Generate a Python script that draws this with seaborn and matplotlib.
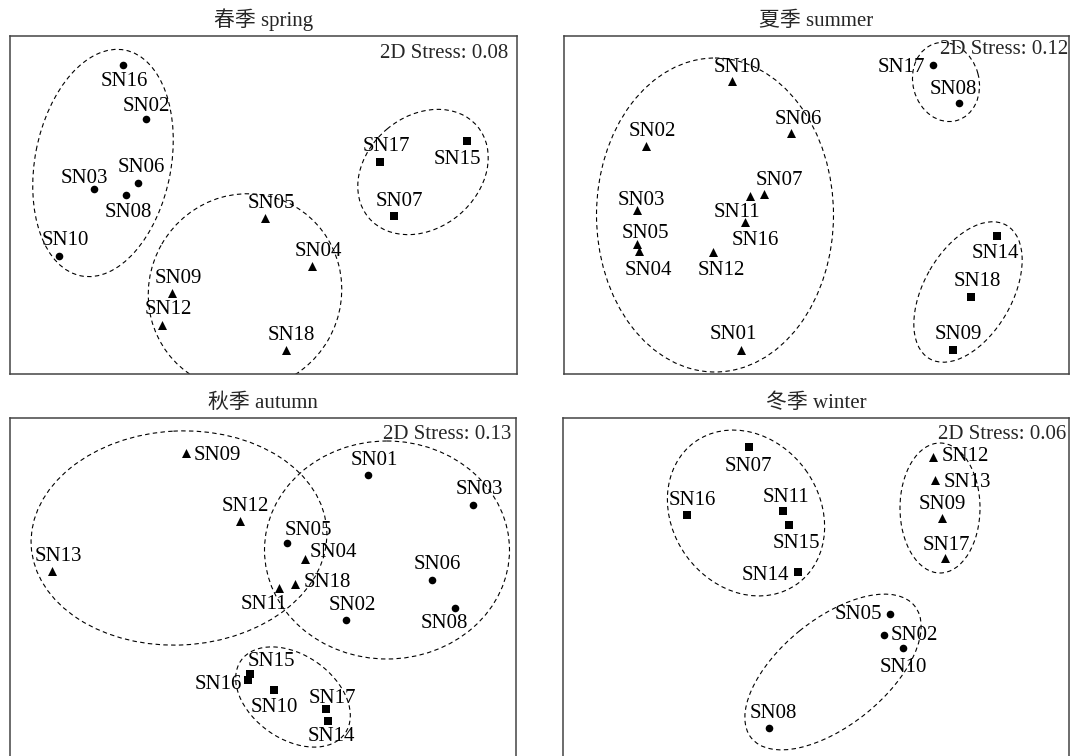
import matplotlib
matplotlib.use("Agg")
import matplotlib.pyplot as plt
from matplotlib.patches import Ellipse
import seaborn as sns
import pandas as pd

sns.set_theme(style="white")
plt.rcParams['font.family'] = ['Liberation Serif', 'Noto Sans CJK SC']

# titles and stress values
titles = ['春季 spring', '夏季 summer', '秋季 autumn', '冬季 winter']
stress = ['0.08', '0.12', '0.13', '0.06']

# ordination positions (panel pixel units, y down)
spring_names = ['SN16', 'SN02', 'SN06', 'SN03', 'SN08', 'SN10', 'SN17', 'SN15', 'SN07',
                'SN05', 'SN04', 'SN09', 'SN12', 'SN18']
spring_x = [123.3, 146.0, 138.4, 93.7, 126.0, 59.2, 380.2, 467.3, 393.6,
            264.5, 312.3, 172.2, 162.2, 285.8]
spring_y = [65.0, 119.2, 182.8, 188.9, 194.6, 255.9, 161.6, 141.1, 216.5,
            217.8, 266.0, 292.6, 325.3, 350.2]
spring_grp = ['o'] * 6 + ['s'] * 3 + ['^'] * 5

summer_names = ['SN10', 'SN06', 'SN02', 'SN07', 'SN11', 'SN03', 'SN16', 'SN05', 'SN04',
                'SN12', 'SN01', 'SN17', 'SN08', 'SN14', 'SN18', 'SN09']
summer_x = [731.7, 791.4, 646.1, 763.5, 749.5, 637.2, 745.4, 636.9, 638.9,
            713.3, 741.0, 933.4, 959.0, 997.2, 970.9, 952.8]
summer_y = [81.5, 133.1, 146.2, 194.4, 196.4, 209.6, 222.4, 243.6, 251.0,
            252.4, 349.7, 65.4, 103.1, 236.5, 297.5, 349.7]
summer_grp = ['^'] * 11 + ['o'] * 2 + ['s'] * 3

autumn_names = ['SN09', 'SN12', 'SN13', 'SN04', 'SN18', 'SN11', 'SN05', 'SN01', 'SN03',
                'SN06', 'SN08', 'SN02', 'SN15', 'SN16', 'SN10', 'SN17', 'SN14']
autumn_x = [186.3, 239.7, 51.7, 305.1, 295.1, 278.9, 287.2, 368.5, 473.5,
            431.8, 455.2, 346.1, 250.3, 247.9, 273.8, 326.1, 328.5]
autumn_y = [453.3, 521.3, 570.7, 559.0, 584.0, 588.3, 543.0, 474.7, 504.7,
            580.3, 608.0, 620.3, 674.3, 680.0, 690.3, 709.3, 721.3]
autumn_grp = ['^'] * 6 + ['o'] * 6 + ['s'] * 5

winter_names = ['SN07', 'SN16', 'SN11', 'SN15', 'SN14', 'SN12', 'SN13', 'SN09', 'SN17',
                'SN05', 'SN02', 'SN10', 'SN08']
winter_x = [748.8, 686.7, 783.3, 789.1, 797.6, 933.0, 935.1, 941.6, 945.3,
            890.0, 883.6, 903.0, 768.6]
winter_y = [446.7, 515.0, 511.3, 525.3, 572.3, 457.0, 480.0, 518.3, 558.3,
            614.0, 635.0, 647.7, 728.3]
winter_grp = ['s'] * 5 + ['^'] * 4 + ['o'] * 4

# label offsets from the point (px, y down)
spring_lab = [(1, 13.5), (0, -15), (3, -18), (-9, -13), (2, 15), (6, -17.5), (6, -17.5),
              (-10, 16), (6, -18), (7, -17), (6, -17), (6, -17), (6, -18), (6, -17)]
summer_lab = [(5.5, -16), (7, -16.5), (6.5, -17.5), (16, -16), (-13, 14), (4.5, -12),
              (10, 16), (8, -13), (9, 17), (8, 16), (-8, -18), (-32, 0), (-6, -16),
              (-2, 14.5), (6.5, -18.5), (6, -18)]
autumn_lab = [(31, 0), (6, -17), (7, -17), (28, -9), (32, -4), (-15, 14), (21, -15),
              (6, -17), (6, -18), (6, -18), (-11, 13), (6, -17), (21, -15), (-30, 2),
              (1, 15), (6, -13), (3, 13)]
winter_lab = [(0, 17), (6, -17), (3, -16), (7.5, 16), (-32, 1), (32, -3), (32, 0),
              (1, -16), (1, -15), (-32, -2), (31, -2), (0, 17), (5, -17)]

# cluster outlines: centre x, centre y, width, height, angle
spring_ell = [(103, 163, 230, 136, -79), (245, 292, 198, 192, -60), (423, 172, 142, 112, -40)]
summer_ell = [(715, 215, 237, 314, 0), (946, 82, 80, 66, 75), (968, 292, 154, 88, -60)]
autumn_ell = [(179, 538, 296, 214, -3), (387, 550, 245, 218, 0), (293, 697, 127, 84, 35)]
winter_ell = [(746, 513, 175, 147, 54), (940, 508, 80, 130, 0), (833, 672, 210, 106, -39)]

panels = [
    (spring_names, spring_x, spring_y, spring_grp, spring_lab, spring_ell),
    (summer_names, summer_x, summer_y, summer_grp, summer_lab, summer_ell),
    (autumn_names, autumn_x, autumn_y, autumn_grp, autumn_lab, autumn_ell),
    (winter_names, winter_x, winter_y, winter_grp, winter_lab, winter_ell),
]

# axes boxes in picture pixels: left, right, top, bottom
boxes = [(10, 517, 36, 374), (564, 1069, 36, 374), (10, 516, 418, 756), (563, 1069, 418, 756)]
stress_pos = [(508, 50.5), (1068, 47.2), (511, 431.7), (1066, 431.7)]
msize = {'o': 30, 's': 28, '^': 42}

W, H = 1075, 756
fig = plt.figure(figsize=(W / 100, H / 100), dpi=100)

for i, (names, xs, ys, grp, lab, ells) in enumerate(panels):
    l, r, t, b = boxes[i]
    ax = fig.add_axes([l / W, 1 - b / H, (r - l) / W, (b - t) / H])
    df = pd.DataFrame({'name': names, 'x': xs, 'y': ys, 'grp': grp})
    for m in ['o', 's', '^']:
        sub = df[df['grp'] == m]
        sns.scatterplot(data=sub, x='x', y='y', marker=m, s=msize[m], color='black',
                        linewidth=0, legend=False, ax=ax, zorder=3)
    for (nm, x, y, (dx, dy)) in zip(names, xs, ys, lab):
        ax.annotate(nm, (x, y), xytext=(dx, -(dy + 7)), textcoords='offset pixels',
                    ha='center', va='baseline', fontsize=15, color='black')
    for (cx, cy, w, h, ang) in ells:
        ax.add_patch(Ellipse((cx, cy), w, h, angle=ang, fill=False, edgecolor='black',
                             linewidth=0.8, linestyle=(0, (4, 3))))
    sx, sy = stress_pos[i]
    ax.text(sx, sy + 7, '2D Stress: ' + stress[i], ha='right', va='baseline', fontsize=15)
    ax.set_xlim(l, r)
    ax.set_ylim(b, t)
    ax.set_xticks([])
    ax.set_yticks([])
    ax.set_xlabel('')
    ax.set_ylabel('')
    ax.set_title(titles[i], fontsize=15, pad=7,
                 family=['Liberation Serif', 'Noto Sans CJK SC'])
    for sp in ax.spines.values():
        sp.set_color('#444444')
        sp.set_linewidth(1.1)
    if i >= 2:
        ax.spines['bottom'].set_visible(False)

fig.savefig('out.png', dpi=100)
